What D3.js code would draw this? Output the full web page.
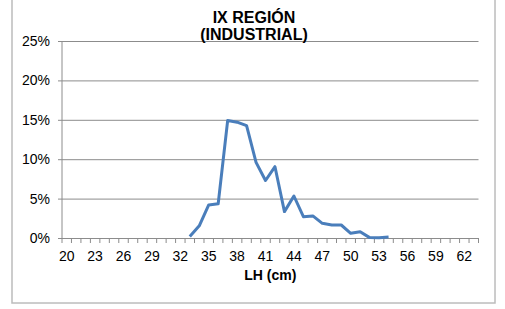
<!DOCTYPE html>
<html>
<head>
<meta charset="utf-8">
<script src="https://cdn.jsdelivr.net/npm/d3@7"></script>
<style>
body { margin: 0; background: #fff; }
text { font-family: "Liberation Sans", Arial, sans-serif; }
</style>
</head>
<body>
<script>
// LH (cm) categories 20..63
var lengths = [20,21,22,23,24,25,26,27,28,29,30,31,32,33,34,35,36,37,38,39,40,41,42,43,44,45,46,47,48,49,50,51,52,53,54,55,56,57,58,59,60,61,62,63];
// share of catch per length (only 33..54 have values)
var seriesLengths = [33,34,35,36,37,38,39,40,41,42,43,44,45,46,47,48,49,50,51,52,53,54];
var seriesValues = [0.002,0.0155,0.042,0.0435,0.149,0.147,0.1425,0.096,0.073,0.0905,0.0335,0.0533,0.027,0.028,0.0186,0.0165,0.0165,0.006,0.008,0.0005,0.0003,0.0012];
var yTicks = [0, 0.05, 0.10, 0.15, 0.20, 0.25];
var xLabels = [20,23,26,29,32,35,38,41,44,47,50,53,56,59,62];

var W = 505, H = 309;
var margin = {top: 41, right: 26.5, bottom: 71, left: 62};
var width = W - margin.left - margin.right;
var height = H - margin.top - margin.bottom;

var svg = d3.select("body").append("svg")
    .attr("width", W)
    .attr("height", H);

// chart frame
svg.append("rect")
    .attr("x", 12).attr("y", -5)
    .attr("width", 483).attr("height", 308)
    .attr("fill", "#fff")
    .attr("stroke", "#bcbcbc")
    .attr("stroke-width", 1.5);

var g = svg.append("g")
    .attr("transform", "translate(" + margin.left + "," + margin.top + ")");

var xScale = d3.scaleBand().domain(lengths).range([0, width]).padding(0);
var yScale = d3.scaleLinear().domain([0, 0.25]).range([height, 0]);

// gridlines + y ticks
var yAxis = d3.axisLeft(yScale)
    .tickValues(yTicks)
    .tickSize(-width)
    .tickFormat(d3.format(".0%"))
    .tickPadding(12);

var gy = g.append("g").call(yAxis);
gy.select(".domain").remove();
gy.selectAll(".tick line")
    .attr("x1", -4)
    .attr("stroke", "#8c8c8c")
    .attr("stroke-width", 1);
gy.selectAll(".tick text")
    .attr("font-size", "14px")
    .attr("fill", "#000");

// y axis line
g.append("line")
    .attr("x1", 0).attr("x2", 0)
    .attr("y1", 0).attr("y2", height)
    .attr("stroke", "#8c8c8c");

// x axis: tick marks between categories
var bounds = lengths.map(function(d) { return xScale(d); }).concat([width]);
g.append("g").selectAll("line.xt")
    .data(bounds)
    .enter()
    .append("line")
    .attr("x1", function(d) { return d; })
    .attr("x2", function(d) { return d; })
    .attr("y1", height)
    .attr("y2", height + 5)
    .attr("stroke", "#8c8c8c");

g.append("g").selectAll("text.xl")
    .data(xLabels)
    .enter()
    .append("text")
    .attr("x", function(d) { return xScale(d) + xScale.bandwidth() / 2; })
    .attr("y", height + 23)
    .attr("text-anchor", "middle")
    .attr("font-size", "14px")
    .attr("fill", "#000")
    .text(function(d) { return d; });

// the line
var line = d3.line()
    .x(function(d, i) { return xScale(seriesLengths[i]) + xScale.bandwidth() / 2; })
    .y(function(d) { return yScale(d); });

g.append("path")
    .datum(seriesValues)
    .attr("d", line)
    .attr("fill", "none")
    .attr("stroke", "#4a7ebb")
    .attr("stroke-width", 3)
    .attr("stroke-linejoin", "round");

// title
svg.append("text")
    .attr("x", 254).attr("y", 23)
    .attr("text-anchor", "middle")
    .attr("font-size", "16px")
    .attr("font-weight", "bold")
    .text("IX REGIÓN");
svg.append("text")
    .attr("x", 254).attr("y", 40)
    .attr("text-anchor", "middle")
    .attr("font-size", "16px")
    .attr("font-weight", "bold")
    .text("(INDUSTRIAL)");

// x axis label
svg.append("text")
    .attr("x", margin.left + width / 2).attr("y", 280)
    .attr("text-anchor", "middle")
    .attr("font-size", "14px")
    .attr("font-weight", "bold")
    .text("LH (cm)");
</script>
</body>
</html>
